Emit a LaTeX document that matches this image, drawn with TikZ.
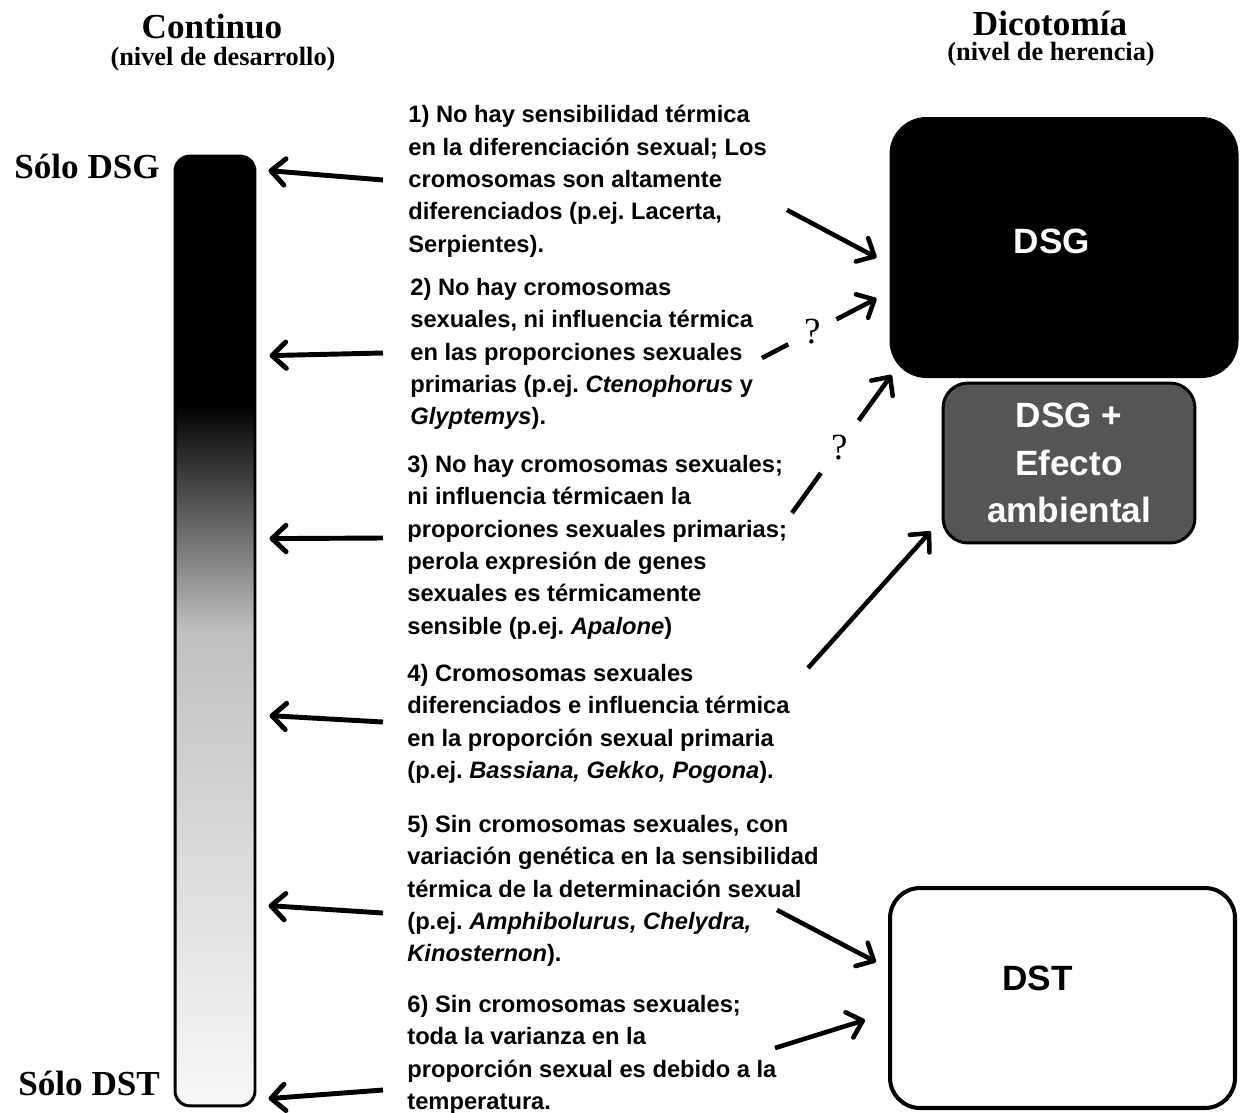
\documentclass[tikz,border=0pt]{standalone}
\usepackage{fontspec}
\setmainfont{Liberation Serif}
\setsansfont{Liberation Sans}
\usetikzlibrary{arrows.meta, calc, positioning}
\definecolor{envgray}{RGB}{85, 85, 85}
\definecolor{lightbar}{RGB}{248, 248, 248}
\definecolor{midbar}{RGB}{192, 192, 192}
\pgfdeclareverticalshading{barshade}{100bp}{color(0bp)=(lightbar); color(25bp)=(lightbar); color(50bp)=(midbar); color(62bp)=(black); color(75bp)=(black); color(100bp)=(black)}
\frenchspacing

\begin{document}
\begin{tikzpicture}[> = {Straight Barb[length=8pt,width=15pt,round]}, x=0.02cm, y=-0.02cm,
	title/.style={font=\bfseries\fontsize{20}{24}\selectfont, inner sep=0pt},
	subtitle/.style={font=\bfseries\fontsize{15}{18}\selectfont, inner sep=0pt},
	desc/.style={anchor=north west, align=left, inner sep=0pt, font=\sffamily\bfseries\fontsize{13.5}{18.4}\selectfont},
	box/.style={draw, rounded corners=0.7cm, minimum width=6.9cm, line width=2.3pt},
	boxtext/.style={font=\sffamily\bfseries\fontsize{20}{27.2}\selectfont, align=center, inner sep=0pt},
	toBar/.style={->, line width=2.8pt},
	toBox/.style={->, line width=2.6pt},
	qmark/.style={font=\fontsize{21}{24}\selectfont, inner sep=0pt}]
	% page
	\path[use as bounding box, fill=white] (0,0) rectangle (1240,1112);

	% titles
	\node[title, anchor=base] (cont) at (212,38) {Continuo};
	\node[subtitle, anchor=base] (contsub) at (223,65) {(nivel de desarrollo)};
	\node[title, anchor=base] (dico) at (1050,35) {Dicotomía};
	\node[subtitle, anchor=base] (dicosub) at (1051,60) {(nivel de herencia)};

	% continuous bar
	\node[draw, line width=1.7pt, rounded corners=0.3cm, minimum width=1.6cm, minimum height=19cm, shade, shading=barshade] (bar) at (215,631) {};
	\node[title, anchor=base west] (onlydsg) at (14,178) {Sólo DSG};
	\node[title, anchor=base west] (onlydst) at (18,1095) {Sólo DST};

	% the six cases
	\node[desc] (t1) at (408,105) {1) No hay sensibilidad térmica\\ en la diferenciación sexual; Los\\ cromosomas son altamente\\ diferenciados (p.ej. Lacerta,\\ Serpientes).};
	\node[desc] (t2) at (410,278) {2) No hay cromosomas\\ sexuales, ni influencia térmica\\ en las proporciones sexuales\\ primarias (p.ej. \textit{Ctenophorus} y\\ \textit{Glyptemys}).};
	\node[desc] (t3) at (407,455) {3) No hay cromosomas sexuales;\\ ni influencia térmicaen la\\ proporciones sexuales primarias;\\ perola expresión de genes\\ sexuales es térmicamente\\ sensible (p.ej. \textit{Apalone})};
	\node[desc] (t4) at (407,664) {4) Cromosomas sexuales\\ diferenciados e influencia térmica\\ en la proporción sexual primaria\\ (p.ej. \textit{Bassiana, Gekko, Pogona}).};
	\node[desc] (t5) at (407,815) {5) Sin cromosomas sexuales, con\\ variación genética en la sensibilidad\\ térmica de la determinación sexual\\ (p.ej. \textit{Amphibolurus, Chelydra,}\\ \textit{Kinosternon}).};
	\node[desc] (t6) at (407,995) {6) Sin cromosomas sexuales;\\ toda la varianza en la\\ proporción sexual es debido a la\\ temperatura.};

	% dichotomy boxes
	\node[box, fill=black, minimum height=5.14cm] (dsg) at (1064,247.5) {};
	\node[box, fill=envgray, rounded corners=0.5cm, minimum width=5.04cm, minimum height=3.2cm, line width=1.7pt] (env) at (1069,463) {};
	\node[box, fill=white, rounded corners=0.6cm, minimum height=4.4cm] (dst) at (1062.5,998) {};
	\node[boxtext, text=white] (dsgtext) at ($(dsg)+(-12,-6)$) {DSG};
	\node[boxtext, text=white] (envtext) at (env) {DSG +\\ Efecto\\ ambiental};
	\node[boxtext] (dsttext) at ($(dst)+(-25,-20)$) {DST};

	% arrows to the bar
	\draw[toBar] ($(t1.north west)+(-25,75)$) -- ($(bar.north east)+(12,16)$);
	\draw[toBar] ($(t2.north west)+(-27,75)$) -- ($(bar.north east)+(13,201)$);
	\draw[toBar] ($(t3.north west)+(-24,83)$) -- ($(bar.north east)+(13,384)$);
	\draw[toBar] ($(t4.north west)+(-24,58)$) -- ($(bar.north east)+(13,561)$);
	\draw[toBar] ($(t5.north west)+(-24,98)$) -- ($(bar.north east)+(12,751)$);
	\draw[toBar] ($(t6.north west)+(-24,95)$) -- ($(bar.north east)+(12,944)$);

	% arrows to the boxes
	\coordinate (s1) at (787,210);
	\coordinate (s2) at (762,358);
	\coordinate (s3) at (792,513);
	\coordinate (s4) at (808,668);
	\coordinate (s5) at (777,910);
	\coordinate (s6) at (775,1048);
	\coordinate (e2) at ($(dsg.west)+(-13,51)$);
	\coordinate (e3) at ($(dsg.south west)+(2,-3)$);

	\draw[toBox] (s1) -- ($(dsg.west)+(-13,10)$);
	% uncertain links
	\draw[toBox, -] (s2) -- ($(s2)!0.23!(e2)$);
	\node[qmark] (q2) at ($(s2)!0.44!(e2)$) {?};
	\draw[toBox] ($(s2)!0.65!(e2)$) -- (e2);
	\draw[toBox, -] (s3) -- ($(s3)!0.29!(e3)$);
	\node[qmark] (q3) at ($(s3)!0.475!(e3)$) {?};
	\draw[toBox] ($(s3)!0.67!(e3)$) -- (e3);

	\draw[toBox] (s4) -- ($(env.south west)+(-11,-13)$);
	\draw[toBox] (s5) -- ($(dst.west)+(-12,-36)$);
	\draw[toBox] (s6) -- ($(dst.west)+(-23,22)$);
\end{tikzpicture}
\end{document}
